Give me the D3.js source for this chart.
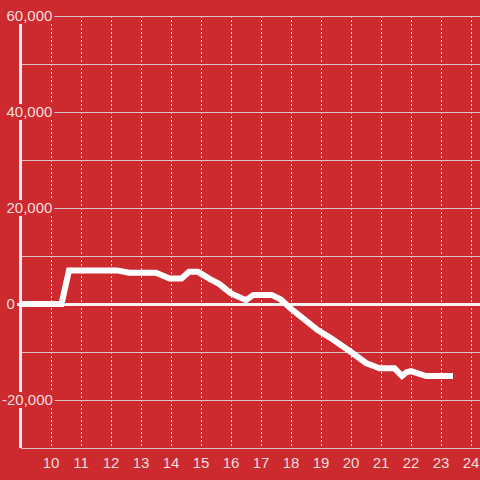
<!DOCTYPE html>
<html>
<head>
<meta charset="utf-8">
<script src="https://cdn.jsdelivr.net/npm/d3@7"></script>
<style>
  html, body { margin: 0; padding: 0; background: #cc2a2f; }
  svg { display: block; }
</style>
</head>
<body>
<div id="chart"></div>
<script>
// data
var hours = [9, 10.35, 10.6, 12.2, 12.6, 13.5, 13.95, 14.35, 14.6, 14.9, 15.3, 15.6, 16.0, 16.5, 16.75, 17.35, 17.65, 18.0, 18.9, 19.3, 20.0, 20.5, 20.95, 21.45, 21.7, 21.85, 22.0, 22.5, 23.4];
var values = [0, 0, 7000, 7000, 6500, 6500, 5300, 5300, 6700, 6700, 5200, 4200, 2200, 800, 1900, 1900, 1000, -1000, -5500, -7000, -10000, -12300, -13400, -13400, -15000, -14200, -14000, -15000, -15000];
var xTicks = [10, 11, 12, 13, 14, 15, 16, 17, 18, 19, 20, 21, 22, 23, 24];
var yGrid = [-30000, -20000, -10000, 0, 10000, 20000, 30000, 40000, 50000, 60000];
var yLabels = [-20000, 0, 20000, 40000, 60000];

var width = 480, height = 480;
var bg = "#cc2a2f";
var font = "Liberation Sans, Arial, sans-serif";

var x = d3.scaleLinear().domain([9, 24.333]).range([21, 481]);
var y = d3.scaleLinear().domain([-30000, 60000]).range([448, 16]);

var svg = d3.select("#chart")
        .append("svg")
        .attr("width", width)
        .attr("height", height);

svg.append("rect")
        .attr("width", width)
        .attr("height", height)
        .attr("fill", bg);

// vertical dotted grid
svg.append("g")
        .selectAll("line")
        .data(xTicks)
        .enter()
        .append("line")
        .attr("x1", function (d) { return x(d) + 0.5; })
        .attr("x2", function (d) { return x(d) + 0.5; })
        .attr("y1", y(60000))
        .attr("y2", y(-30000))
        .attr("stroke", "#eedede")
        .attr("stroke-width", 1)
        .attr("stroke-dasharray", "2,2");

// horizontal grid
svg.append("g")
        .selectAll("line")
        .data(yGrid.filter(function (d) { return d !== 0; }))
        .enter()
        .append("line")
        .attr("x1", 21)
        .attr("x2", width)
        .attr("y1", function (d) { return Math.round(y(d)) + 0.5; })
        .attr("y2", function (d) { return Math.round(y(d)) + 0.5; })
        .attr("stroke", "#d9c4c4")
        .attr("stroke-width", 1);

// y axis line
svg.append("line")
        .attr("x1", 20.5).attr("x2", 20.5)
        .attr("y1", y(60000)).attr("y2", y(-30000))
        .attr("stroke", "#f2eded")
        .attr("stroke-width", 3);

// zero line
svg.append("line")
        .attr("x1", 17).attr("x2", width)
        .attr("y1", Math.round(y(0)) + 0.5).attr("y2", Math.round(y(0)) + 0.5)
        .attr("stroke", "#f7f2f2")
        .attr("stroke-width", 3);

// y labels with background sized to the text; digits start at x=7, minus hangs left
var yl = svg.append("g")
        .selectAll("g")
        .data(yLabels)
        .enter()
        .append("g")
        .attr("transform", function (d) { return "translate(0," + y(d) + ")"; });

yl.append("rect")
        .attr("fill", bg);

yl.append("text")
        .attr("x", function (d) { return d < 0 ? 2 : 6.5; })
        .attr("dy", "0.35em")
        .attr("text-anchor", "start")
        .attr("font-family", font)
        .attr("font-size", "15px")
        .attr("fill", "#f3dede")
        .text(function (d) { return d3.format(",")(d).replace("−", "-"); });

yl.each(function () {
    var g = d3.select(this);
    var b = g.select("text").node().getBBox();
    g.select("rect")
            .attr("x", b.x - 1)
            .attr("y", -8)
            .attr("width", b.width + 3)
            .attr("height", 16);
});

// data line
var line = d3.line()
        .x(function (d, i) { return x(hours[i]); })
        .y(function (d) { return y(d); });

svg.append("path")
        .datum(values)
        .attr("d", line)
        .attr("fill", "none")
        .attr("stroke", "#ffffff")
        .attr("stroke-width", 6)
        .attr("stroke-linejoin", "miter");

// x labels
svg.append("g")
        .selectAll("text")
        .data(xTicks)
        .enter()
        .append("text")
        .attr("x", function (d) { return x(d); })
        .attr("y", 468)
        .attr("text-anchor", "middle")
        .attr("font-family", font)
        .attr("font-size", "15px")
        .attr("fill", "#f3dede")
        .text(function (d) { return d; });
</script>
</body>
</html>
